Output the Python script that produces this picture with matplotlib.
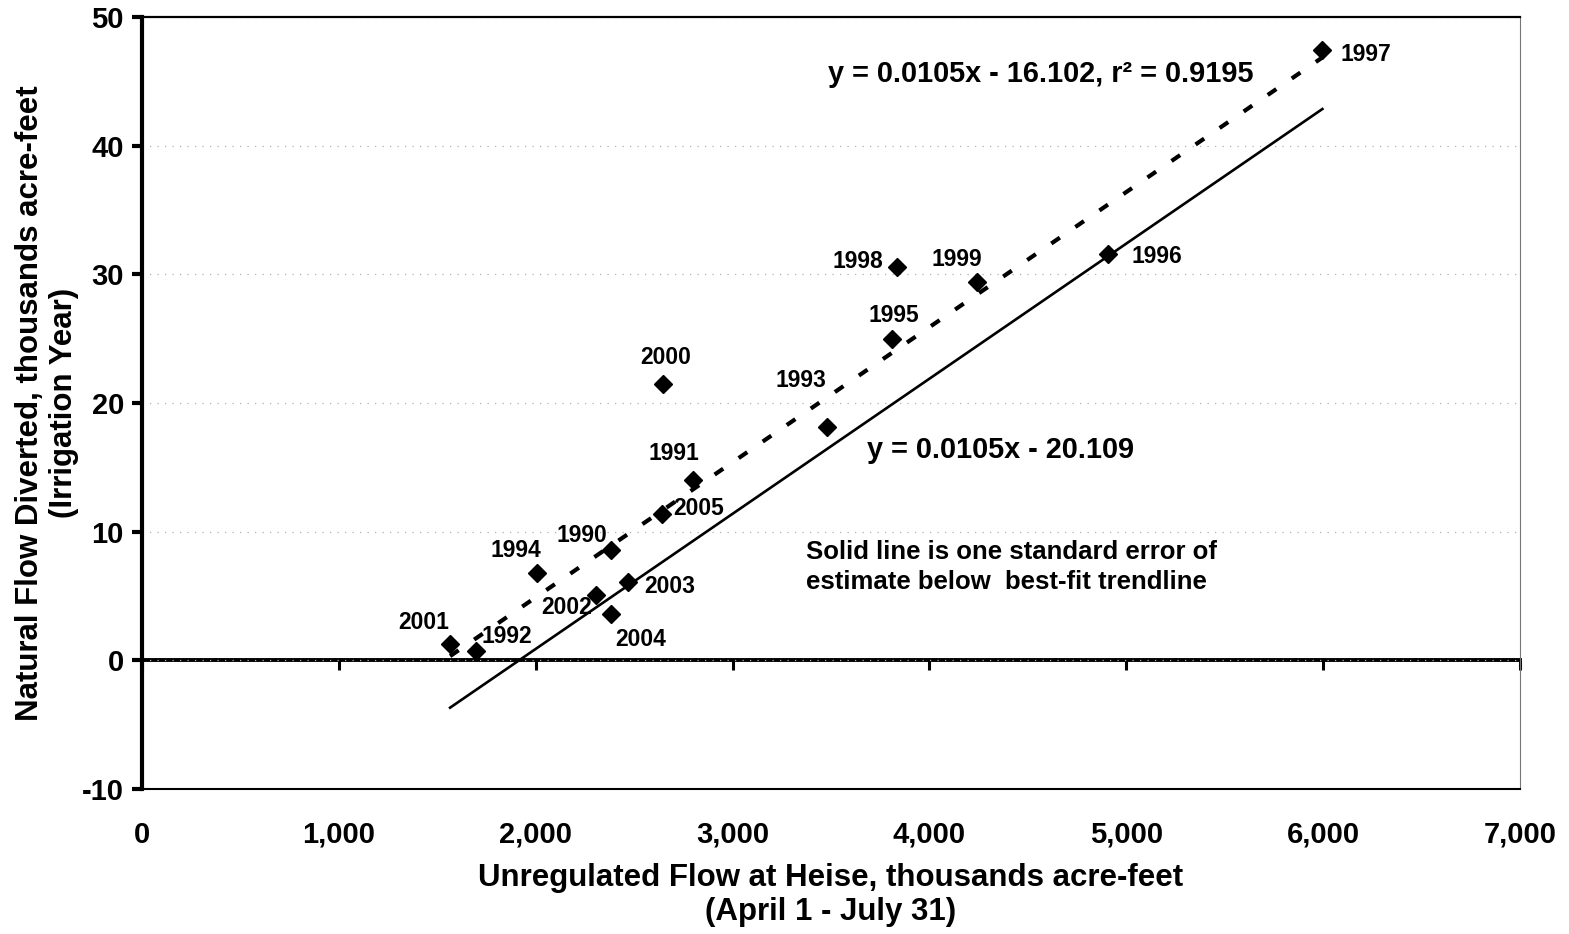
import matplotlib.pyplot as plt
import numpy as np
from matplotlib.ticker import FuncFormatter

plt.rcParams['font.family'] = ['Liberation Sans', 'DejaVu Sans']
plt.rcParams['font.weight'] = 'bold'
plt.rcParams['axes.unicode_minus'] = False

# Water years with unregulated flow (x) and natural flow diverted (y)
years = ['2001', '1992', '1994', '2002', '2004', '1990', '2003', '2005',
         '2000', '1991', '1993', '1995', '1998', '1999', '1996', '1997']
flow = [1565, 1697, 2007, 2307, 2383, 2383, 2470, 2642,
        2647, 2800, 3481, 3811, 3836, 4243, 4909, 5996]
diverted = [1.3, 0.7, 6.8, 5.05, 3.6, 8.6, 6.1, 11.35,
            21.5, 14.0, 18.1, 25.0, 30.6, 29.4, 31.6, 47.4]

# label offsets in points relative to each marker
label_offsets = [(-19, 15), (22, 11), (-15, 16), (-21, -9), (21, -18), (-21, 10),
                 (30, -3), (26, 4), (2, 19), (-14, 19), (-19, 34), (1, 17),
                 (-28, 4), (-15, 16), (35, -2), (31, -3)]

slope = 0.0105
fit_intercept = -16.102
low_intercept = -20.109
r_squared = 0.9195

fig = plt.figure(figsize=(15.69, 9.34), dpi=100)
ax = fig.add_axes([0.0905, 0.1552, 0.8783, 0.8266])

ax.set_xlim(0, 7000)
ax.set_ylim(-10, 50)
ax.set_xticks(np.arange(0, 7001, 1000))
ax.set_yticks(np.arange(-10, 51, 10))
ax.xaxis.set_major_formatter(FuncFormatter(lambda v, p: f'{int(v):,}'))

ax.yaxis.grid(True, color='#b0b0b0', linestyle=(0, (1, 5)), linewidth=0.9)
ax.set_axisbelow(True)

ax.spines['left'].set_linewidth(3)
ax.spines['top'].set_linewidth(1.6)
ax.spines['right'].set_color('#777777')
ax.spines['right'].set_linewidth(0.8)
ax.spines['bottom'].set_linewidth(1.5)

ax.tick_params(axis='y', direction='out', length=7, width=3, labelsize=21, pad=6)
ax.tick_params(axis='x', length=0, labelsize=21, pad=23)

# zero line carries the x tick marks
zero_axis = ax.secondary_xaxis(10 / 60)
zero_axis.set_xticks(np.arange(0, 7001, 1000))
zero_axis.tick_params(direction='out', length=7, width=2.2, labelbottom=False)
zero_axis.spines['bottom'].set_linewidth(2.8)

fx = np.array([min(flow), max(flow)])
ax.plot(fx, slope * fx + fit_intercept, color='black', linewidth=3,
        linestyle=(0, (2.5, 4.5)), zorder=3)
ax.plot(fx, slope * fx + low_intercept, color='black', linewidth=1.9, zorder=3)
ax.plot(flow, diverted, linestyle='none', marker='D', markersize=9.5,
        color='black', zorder=4)

for yr, x, y, off in zip(years, flow, diverted, label_offsets):
    ax.annotate(yr, (x, y), xytext=off, textcoords='offset points',
                ha='center', va='center', fontsize=16.5, fontweight='bold')

ax.text(0.652, 0.926, f'y = {slope}x - {abs(fit_intercept)}, r² = {r_squared}',
        transform=ax.transAxes, ha='center', va='center', fontsize=20.8)
ax.text(0.623, 0.439, f'y = {slope}x - {abs(low_intercept)}',
        transform=ax.transAxes, ha='center', va='center', fontsize=20.8)
ax.text(0.482, 0.2876, 'Solid line is one standard error of\nestimate below  best-fit trendline',
        transform=ax.transAxes, ha='left', va='center', fontsize=18.5,
        linespacing=1.3)

ax.set_xlabel('Unregulated Flow at Heise, thousands acre-feet\n(April 1 - July 31)',
              fontsize=22.5, fontweight='bold', labelpad=10, linespacing=1.2)
ax.set_ylabel('Natural Flow Diverted, thousands acre-feet\n(Irrigation Year)',
              fontsize=22.5, fontweight='bold', labelpad=2, linespacing=1.2)

fig.savefig('out.png', dpi=100)
